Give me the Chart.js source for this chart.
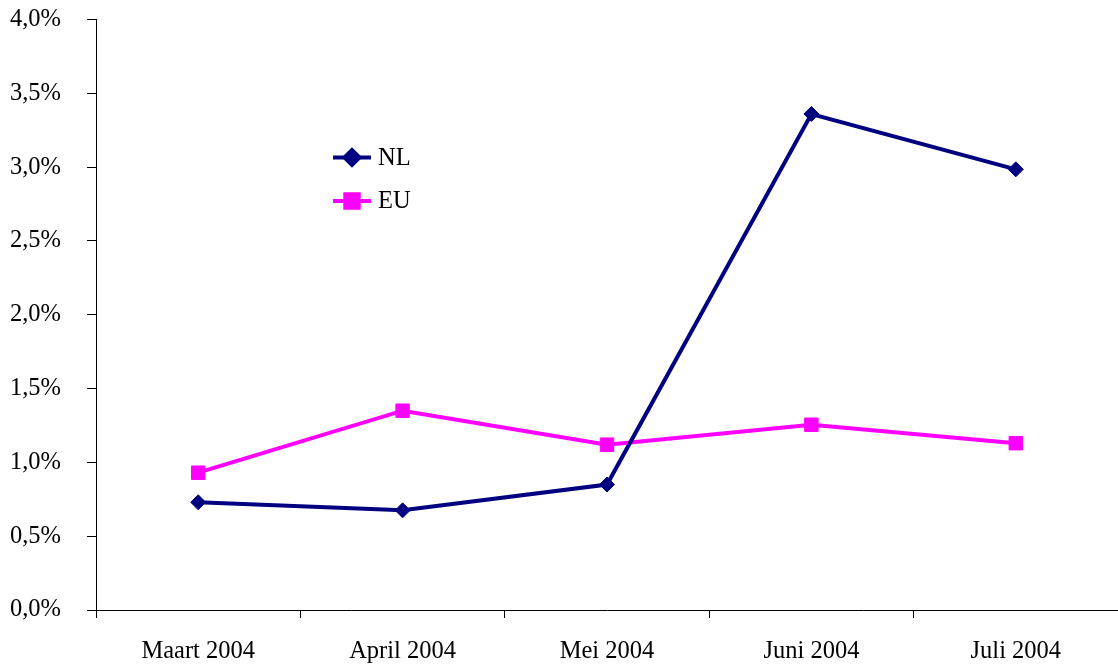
<!DOCTYPE html>
<html>
<head>
<meta charset="utf-8">
<script src="https://cdn.jsdelivr.net/npm/chart.js@4.4.1/dist/chart.umd.min.js"></script>
<style>
  html, body { margin: 0; padding: 0; background: #fff; }
  #wrap { width: 1118px; height: 667px; position: relative; }
</style>
</head>
<body>
<div id="wrap"><canvas id="c" width="1118" height="667"></canvas></div>
<script>
const categories = ['Maart 2004', 'April 2004', 'Mei 2004', 'Juni 2004', 'Juli 2004'];
const nlValues = [0.73, 0.675, 0.85, 3.36, 2.985];
const euValues = [0.93, 1.35, 1.12, 1.255, 1.13];
const seriesNames = ['NL', 'EU'];
const yTicks = [0, 0.5, 1.0, 1.5, 2.0, 2.5, 3.0, 3.5, 4.0];

const FONT = { family: "'Liberation Serif', 'Times New Roman', serif", size: 24.5 };
const NAVY = '#000080';
const MAGENTA = '#FF00FF';

const legendPlugin = {
  id: 'floatLegend',
  afterDraw(chart) {
    const ctx = chart.ctx;
    const items = [
      { ds: chart.data.datasets[0], y: 157.5 },
      { ds: chart.data.datasets[1], y: 201 }
    ];
    ctx.save();
    items.forEach(it => {
      const ds = it.ds;
      ctx.strokeStyle = ds.borderColor;
      ctx.lineWidth = ds.borderWidth;
      ctx.beginPath();
      ctx.moveTo(333, it.y);
      ctx.lineTo(371, it.y);
      ctx.stroke();
      ctx.fillStyle = ds.pointBackgroundColor;
      ctx.strokeStyle = ds.pointBorderColor;
      Chart.helpers.drawPoint(ctx, {
        pointStyle: ds.pointStyle,
        radius: ds.pointRadius,
        borderWidth: 1,
        rotation: 0
      }, 352, it.y);
      ctx.fillStyle = '#000';
      ctx.font = FONT.size + 'px ' + FONT.family;
      ctx.textAlign = 'left';
      ctx.textBaseline = 'middle';
      ctx.fillText(ds.label, 378, it.y + 1);
    });
    ctx.restore();
  }
};

new Chart(document.getElementById('c'), {
  type: 'line',
  data: {
    labels: categories,
    datasets: [
      {
        label: seriesNames[0],
        data: nlValues,
        borderColor: NAVY,
        backgroundColor: NAVY,
        borderWidth: 4,
        pointStyle: 'rectRot',
        pointRadius: 7.5,
        pointBackgroundColor: NAVY,
        pointBorderColor: NAVY,
        pointBorderWidth: 1,
        tension: 0
      },
      {
        label: seriesNames[1],
        data: euValues,
        borderColor: MAGENTA,
        backgroundColor: MAGENTA,
        borderWidth: 4,
        pointStyle: 'rect',
        pointRadius: 9.5,
        pointBackgroundColor: MAGENTA,
        pointBorderColor: MAGENTA,
        pointBorderWidth: 1,
        tension: 0
      }
    ]
  },
  options: {
    responsive: false,
    animation: false,
    devicePixelRatio: 1,
    layout: { autoPadding: false, padding: { top: 19.5, right: 0, left: 0, bottom: 0 } },
    plugins: {
      legend: { display: false },
      tooltip: { enabled: false }
    },
    scales: {
      x: {
        type: 'category',
        offset: true,
        grid: {
          offset: true,
          drawOnChartArea: false,
          drawTicks: true,
          tickLength: 8,
          color: '#000',
          lineWidth: 1
        },
        border: { display: true, color: '#000', width: 1 },
        ticks: {
          color: '#000',
          font: FONT,
          padding: 19,
          maxRotation: 0,
          autoSkip: false
        },
        afterFit(scale) { scale.height = 57; scale.paddingLeft = 0; scale.paddingRight = 0; }
      },
      y: {
        min: 0,
        max: 4,
        afterBuildTicks(scale) { scale.ticks = yTicks.map(v => ({ value: v })); },
        grid: {
          drawOnChartArea: false,
          drawTicks: true,
          tickLength: 9,
          color: '#000',
          lineWidth: 1
        },
        border: { display: true, color: '#000', width: 1 },
        ticks: {
          color: '#000',
          font: FONT,
          padding: 26,
          callback: v => v.toFixed(1).replace('.', ',') + '%'
        },
        afterFit(scale) { scale.width = 96; scale.paddingTop = 0; scale.paddingBottom = 0; }
      }
    }
  },
  plugins: [legendPlugin]
});
</script>
</body>
</html>
